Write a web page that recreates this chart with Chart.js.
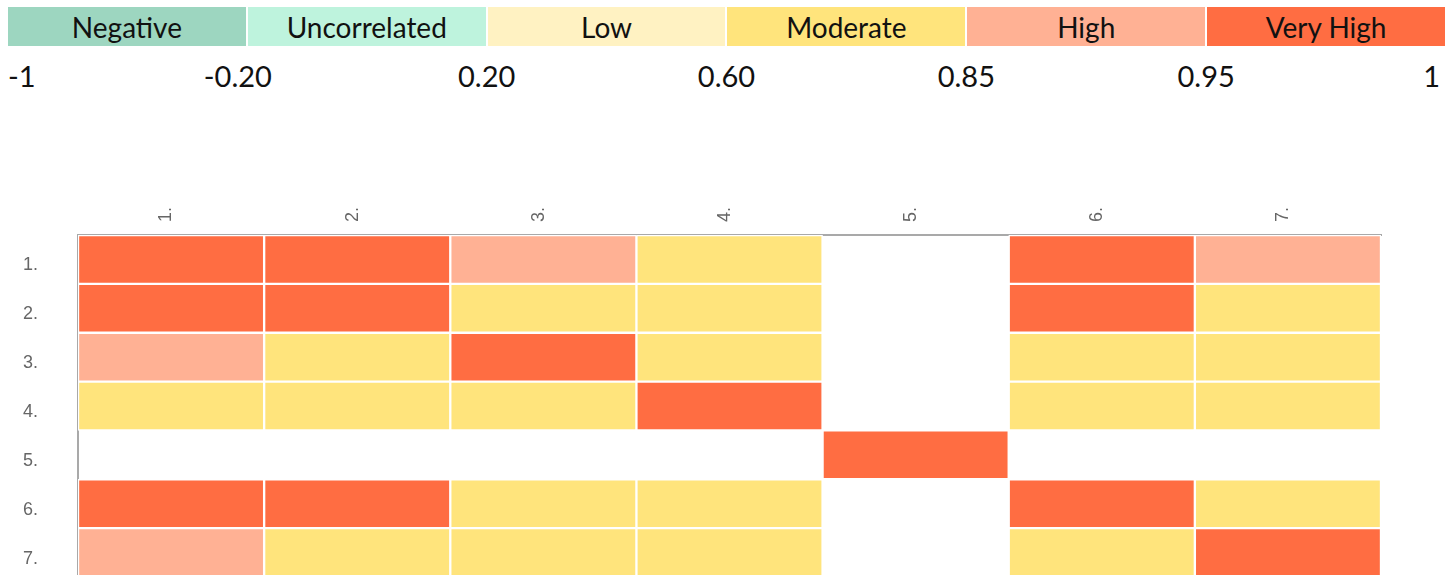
<!DOCTYPE html>
<html>
<head>
<meta charset="utf-8">
<title>Correlation heatmap</title>
<script src="https://cdn.jsdelivr.net/npm/chart.js@4.4.1/dist/chart.umd.min.js"></script>
<style>
  html, body { margin: 0; overflow: hidden; }
  body { background: #fff; font-family: Lato, "Noto Sans", sans-serif; width: 1455px; height: 575px; position: relative; }
  #scale { position: absolute; left: 8px; top: 7px; width: 1437px; height: 39px; display: flex; gap: 2px; }
  #scale div { flex: 1; display: flex; align-items: center; justify-content: center; font-size: 28px; color: #111; }
  #ticks { position: absolute; left: 8px; top: 58px; width: 1437px; height: 38px; font-size: 29px; color: #111; }
  #ticks span { position: absolute; top: 0; white-space: nowrap; }
  #wrap { position: absolute; left: 0; top: 190px; width: 1455px; height: 390px; }
</style>
</head>
<body>
<div id="scale"></div>
<div id="ticks"></div>
<div id="wrap"><canvas id="heat"></canvas></div>
<script>
// colour bands of the correlation scale
var bandNames = ["Negative", "Uncorrelated", "Low", "Moderate", "High", "Very High"];
var bandColors = ["#9dd6c0", "#bef3dd", "#fff2c2", "#ffe47c", "#ffb194", "#ff6d42"];
var bandLimits = [-1, -0.20, 0.20, 0.60, 0.85, 0.95, 1];
var bandTickLabels = ["-1", "-0.20", "0.20", "0.60", "0.85", "0.95", "1"];

// matrix labels
var colLabels = ["1.", "2.", "3.", "4.", "5.", "6.", "7."];
var rowLabels = ["1.", "2.", "3.", "4.", "5.", "6.", "7."];

// correlation values, one array per row (null = no value)
var row1 = [1.00, 0.97, 0.90, 0.75, null, 0.97, 0.90];
var row2 = [0.97, 1.00, 0.75, 0.75, null, 0.97, 0.75];
var row3 = [0.90, 0.75, 1.00, 0.75, null, 0.75, 0.75];
var row4 = [0.75, 0.75, 0.75, 1.00, null, 0.75, 0.75];
var row5 = [null, null, null, null, 1.00, null, null];
var row6 = [0.97, 0.97, 0.75, 0.75, null, 1.00, 0.75];
var row7 = [0.90, 0.75, 0.75, 0.75, null, 0.75, 1.00];
var rows = [row1, row2, row3, row4, row5, row6, row7];

function colorFor(v) {
    if (v === null) return "rgba(0,0,0,0)";
    for (var i = 0; i < bandNames.length; i++) {
        if (v <= bandLimits[i + 1]) return bandColors[i];
    }
    return bandColors[bandColors.length - 1];
}

/********************************** scale bar *****************************************/
var scaleEl = document.getElementById("scale");
bandNames.forEach(function (name, i) {
    var d = document.createElement("div");
    d.style.background = bandColors[i];
    d.textContent = name;
    scaleEl.appendChild(d);
});

var ticksEl = document.getElementById("ticks");
var boxW = (1437 - 2 * 5) / 6;
bandTickLabels.forEach(function (t, i) {
    var s = document.createElement("span");
    s.textContent = t;
    if (i === 0) {
        s.style.left = "0px";
    } else if (i === bandTickLabels.length - 1) {
        s.style.right = "5px";
    } else {
        // "-0.20" sits a little left of its boundary in the original
        var shift = (t.charAt(0) === "-") ? -9 : 0;
        s.style.left = (i * (boxW + 2) - 1 + shift) + "px";
        s.style.transform = "translateX(-50%)";
    }
    ticksEl.appendChild(s);
});

/********************************** heatmap *****************************************/
new Chart(document.getElementById("heat"), {
    type: "bar",
    data: {
        labels: colLabels,
        datasets: rows.map(function (r, i) {
            return {
                label: rowLabels[i],
                data: r.map(function (v) { return v === null ? null : [i + 0.5, i + 1.5]; }),
                backgroundColor: r.map(colorFor),
                borderColor: "#fff",
                borderWidth: 1.5,
                borderSkipped: false,
                barPercentage: 1,
                categoryPercentage: 1,
                grouped: false
            };
        })
    },
    options: {
        responsive: true,
        maintainAspectRatio: false,
        animation: false,
        layout: { padding: { left: 0, right: 74, top: 0, bottom: 3 } },
        plugins: { legend: { display: false }, tooltip: { enabled: false } },
        scales: {
            x: {
                position: "top",
                grid: { display: false, drawTicks: false },
                border: { display: true, color: "#a9a9a9", width: 2 },
                ticks: {
                    color: "#666",
                    font: { family: "'Liberation Sans', Arial, sans-serif", size: 18 },
                    minRotation: 90,
                    maxRotation: 90,
                    padding: 13,
                    labelOffset: 17
                },
                afterFit: function (axis) {
                    axis.height = 45;
                    axis.paddingLeft = 0;
                    axis.paddingRight = 0;
                }
            },
            y: {
                min: 0.5,
                max: 7.5,
                reverse: true,
                grid: { display: false, drawTicks: false },
                border: { display: true, color: "#a9a9a9", width: 2 },
                afterBuildTicks: function (axis) {
                    axis.ticks = rowLabels.map(function (l, i) { return { value: i + 1 }; });
                },
                ticks: {
                    color: "#666",
                    font: { family: "'Liberation Sans', Arial, sans-serif", size: 18 },
                    padding: 40,
                    labelOffset: 6,
                    callback: function (v) { return rowLabels[v - 1]; }
                },
                afterFit: function (axis) {
                    axis.width = 78;
                    axis.paddingTop = 0;
                    axis.paddingBottom = 0;
                }
            }
        }
    }
});
</script>
</body>
</html>
